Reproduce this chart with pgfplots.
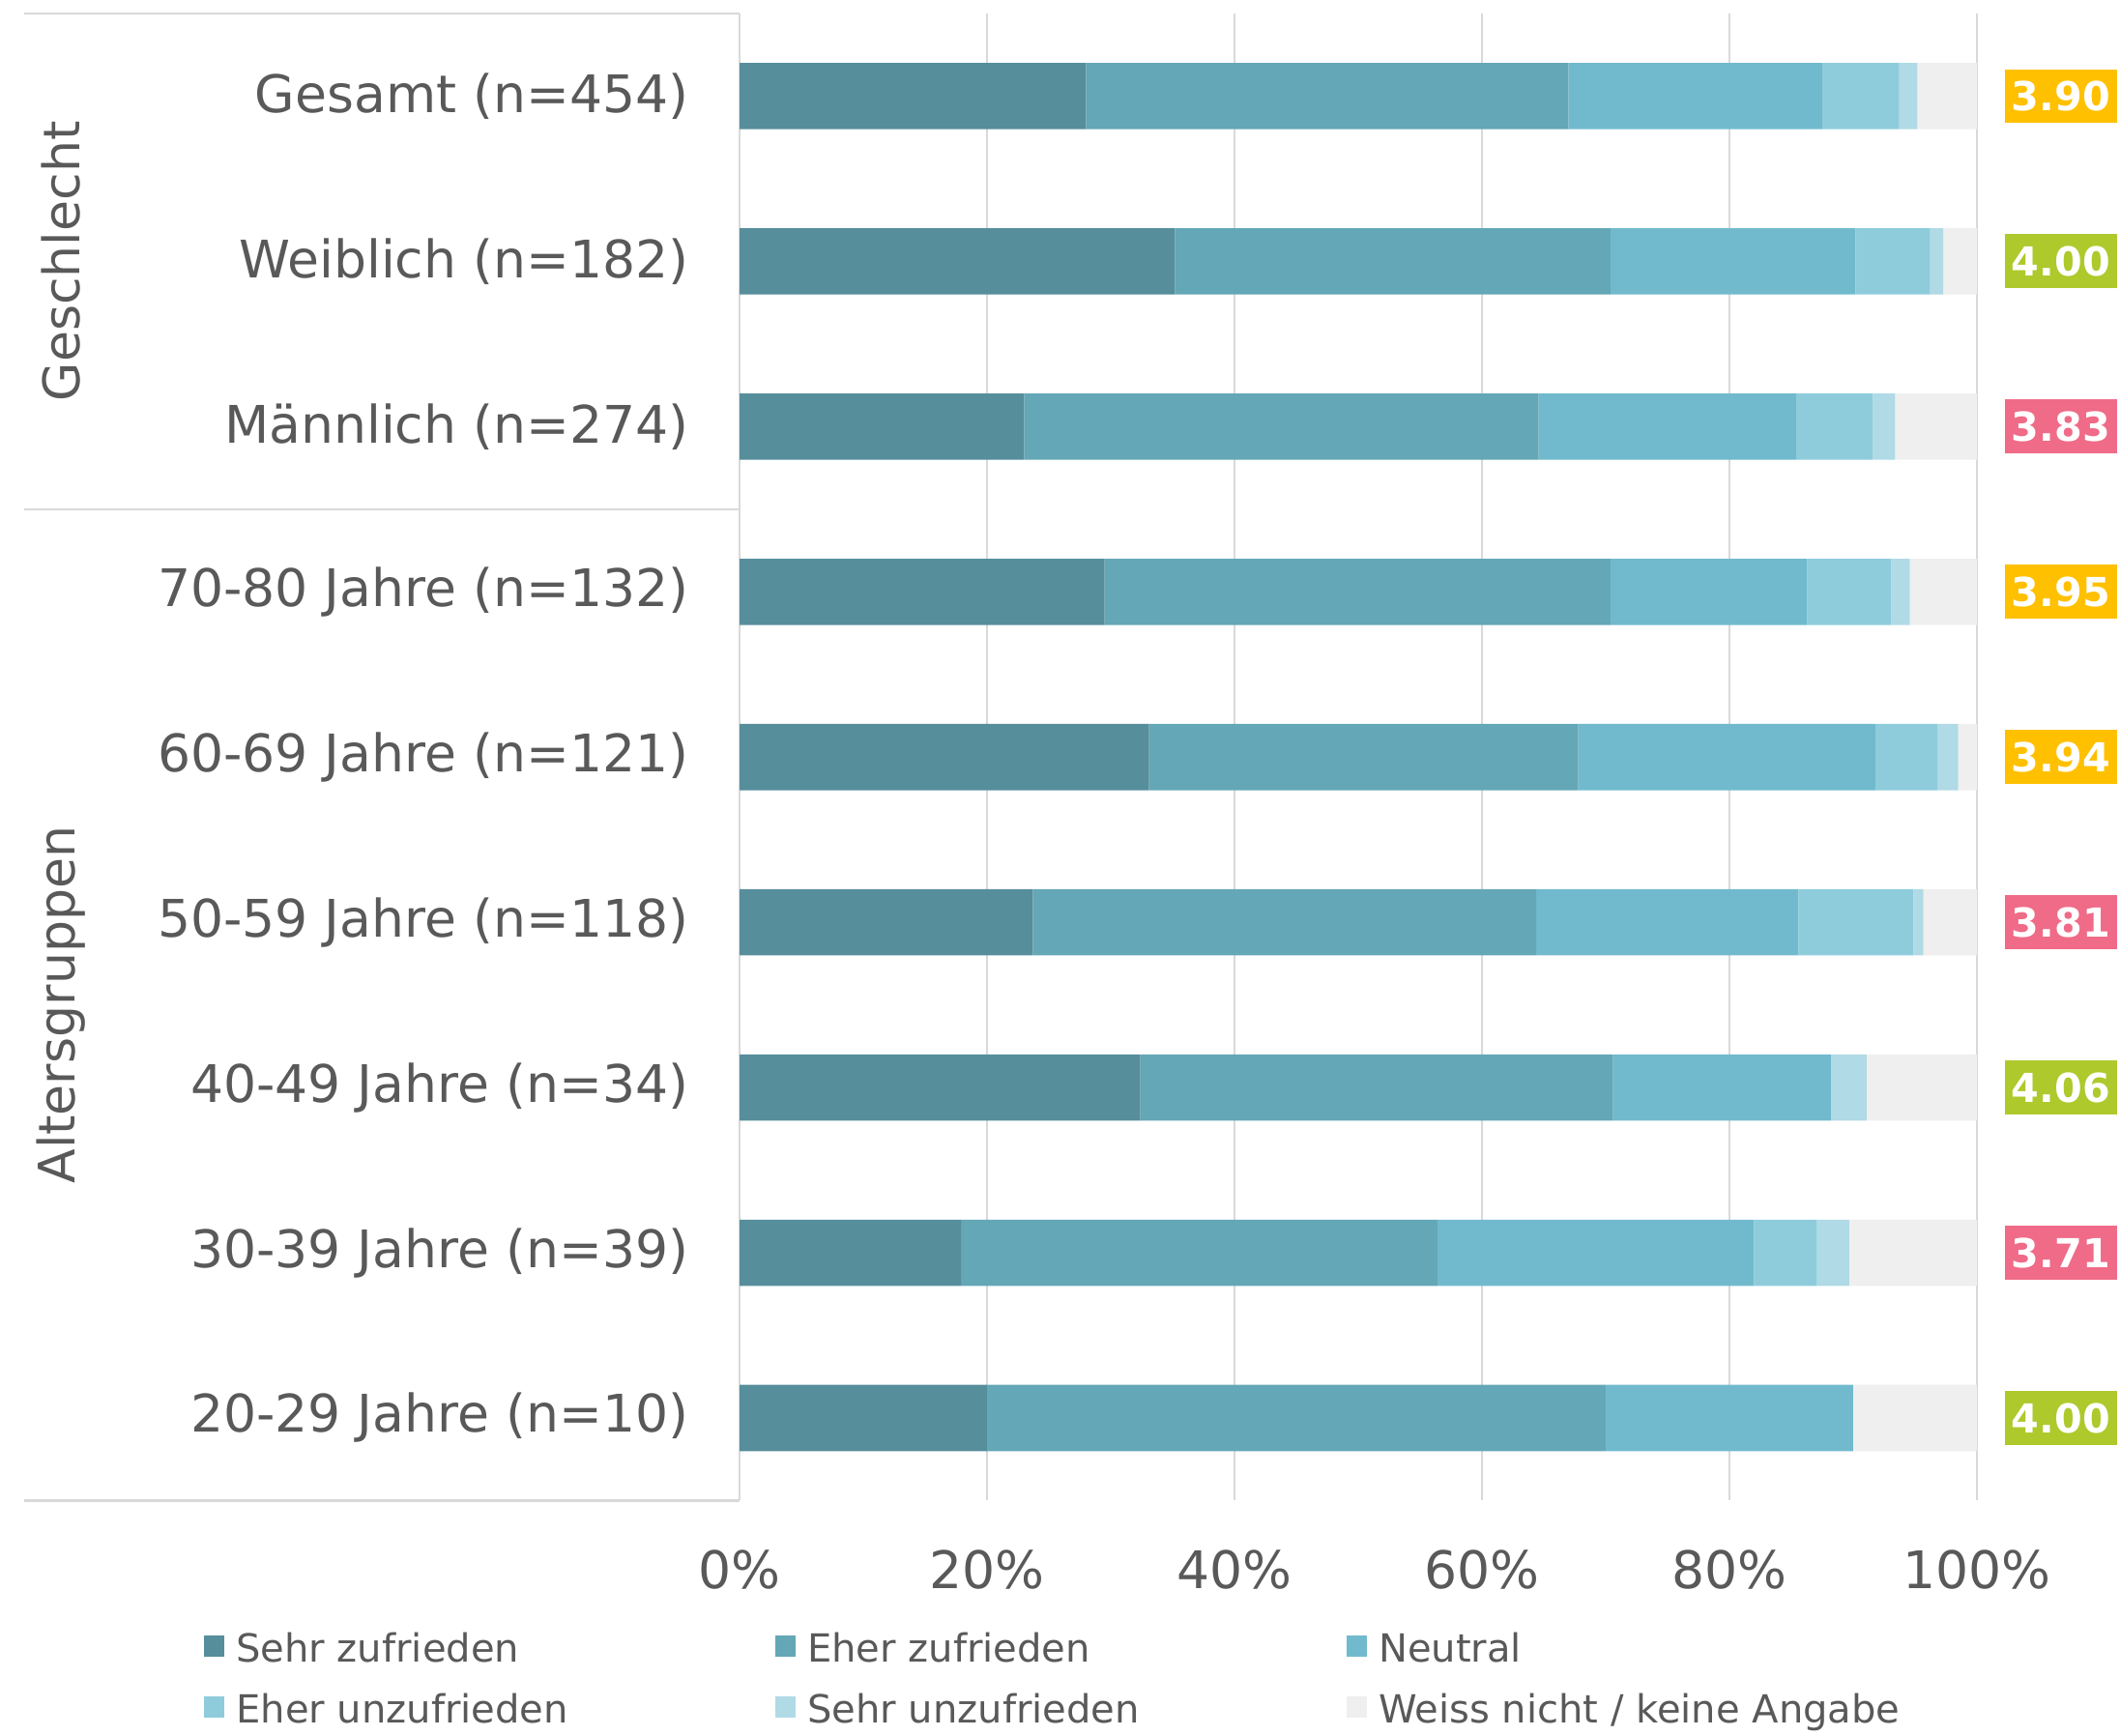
\documentclass[border=0pt]{standalone}
\usepackage{fontspec}
\setmainfont{DejaVu Sans}
\usepackage{pgfplots}
\pgfplotsset{compat=1.18}

\definecolor{cSZ}{HTML}{568E9B}
\definecolor{cEZ}{HTML}{64A7B6}
\definecolor{cNe}{HTML}{71BACE}
\definecolor{cEU}{HTML}{8ECCDC}
\definecolor{cSU}{HTML}{B0DAE5}
\definecolor{cWN}{HTML}{EFEFEF}
\definecolor{cYel}{HTML}{FFC000}
\definecolor{cGrn}{HTML}{ADC92B}
\definecolor{cPnk}{HTML}{EF6B87}
\definecolor{textgray}{HTML}{595959}
\definecolor{linegray}{HTML}{D9D9D9}

\pgfplotsset{
  sq/.style={draw=none, legend image code/.code={\fill[##1] (0cm,-0.035cm) rectangle (0.155cm,0.12cm);}},
}
\tikzset{
  scorebox/.style={anchor=center, inner sep=0pt, minimum width=0.83cm, minimum height=0.40cm,
    text=white, font=\fontsize{8.4}{9}\selectfont\bfseries},
}

\newcommand{\lent}[1]{\makebox[3.985cm][l]{#1}}

\begin{document}
\begin{tikzpicture}
\path[use as bounding box] (-5.47cm,-1.74cm) rectangle (10.21cm,11.10cm);
\begin{axis}[
    at={(0,0)}, anchor=south west,
    scale only axis, width=9.15cm, height=11cm,
    xbar stacked, bar width=0.49cm,
    xmin=0, xmax=100, ymin=-0.5, ymax=8.5,
    ytick={0,...,8},
    yticklabels={20-29 Jahre (n=10), 30-39 Jahre (n=39), 40-49 Jahre (n=34),
      50-59 Jahre (n=118), 60-69 Jahre (n=121), 70-80 Jahre (n=132),
      Männlich (n=274), Weiblich (n=182), Gesamt (n=454)},
    xtick={0,20,...,100},
    xticklabels={0\%,20\%,40\%,60\%,80\%,100\%},
    xmajorgrids, grid style={linegray, line width=0.5pt},
    axis line style={draw=none},
    major tick length=0pt,
    tick label style={text=textgray, font=\fontsize{10.9}{13}\selectfont, inner sep=0pt},
    yticklabel style={anchor=east, xshift=-0.37cm},
    xticklabel style={anchor=north, yshift=-0.36cm},
    clip=false,
    legend columns=3,
    legend cell align=left,
    legend style={at={(axis description cs:0,0)}, anchor=north west,
      xshift=-3.97cm, yshift=-0.97cm,
      draw=none, fill=none, inner sep=0pt, row sep=0.17cm,
      /tikz/column sep=0pt,
      /tikz/every odd column/.append style={column sep=0.085cm},
      nodes={inner sep=0pt, text height=0.22cm, text depth=0.06cm, text=textgray},
      font=\fontsize{8.15}{9.8}\selectfont},
  ]
  \addplot[sq, fill=cSZ] coordinates {(28.0,8) (35.2,7) (23.0,6) (29.5,5) (33.1,4) (23.7,3) (32.4,2) (17.9,1) (20.0,0)};
  \addplot[sq, fill=cEZ] coordinates {(39.0,8) (35.2,7) (41.6,6) (40.9,5) (34.7,4) (40.7,3) (38.2,2) (38.5,1) (50.0,0)};
  \addplot[sq, fill=cNe] coordinates {(20.5,8) (19.8,7) (20.8,6) (15.9,5) (24.0,4) (21.2,3) (17.6,2) (25.6,1) (20.0,0)};
  \addplot[sq, fill=cEU] coordinates {(6.2,8) (6.0,7) (6.2,6) (6.8,5) (5.0,4) (9.3,3) (0,2) (5.1,1) (0,0)};
  \addplot[sq, fill=cSU] coordinates {(1.5,8) (1.1,7) (1.8,6) (1.5,5) (1.7,4) (0.8,3) (2.9,2) (2.6,1) (0,0)};
  \addplot[sq, fill=cWN] coordinates {(4.8,8) (2.7,7) (6.6,6) (5.4,5) (1.5,4) (4.3,3) (8.9,2) (10.3,1) (10.0,0)};
  \legend{\lent{Sehr zufrieden}, \lent{Eher zufrieden}, \lent{Neutral},
    \lent{Eher unzufrieden}, \lent{Sehr unzufrieden}, \lent{Weiss nicht / keine Angabe}}

  % group separators and labels
  \draw[linegray, line width=0.5pt] (axis cs:0,8.5) -- ++(-5.29cm,0cm);
  \draw[linegray, line width=0.5pt] (axis cs:0,5.5) -- ++(-5.29cm,0cm);
  \draw[linegray, line width=0.5pt] (axis cs:0,-0.5) -- ++(-5.29cm,0cm);
  \node[rotate=90, text=textgray, font=\fontsize{10.6}{12}\selectfont] at ([xshift=-5.02cm]axis cs:0,7) {Geschlecht};
  \node[rotate=90, text=textgray, font=\fontsize{10.6}{12}\selectfont] at ([xshift=-5.02cm]axis cs:0,2.5) {Altersgruppen};
\end{axis}

% mean scores
\begin{axis}[
    at={(0,0)}, anchor=south west,
    scale only axis, width=9.15cm, height=11cm,
    xmin=0, xmax=100, ymin=-0.5, ymax=8.5,
    hide axis, clip=false,
  ]
  \addplot[only marks, mark=none, point meta=explicit symbolic, nodes near coords,
    nodes near coords style={scorebox, fill=cYel}]
    coordinates {(106.8,8) [3.90] (106.8,5) [3.95] (106.8,4) [3.94]};
  \addplot[only marks, mark=none, point meta=explicit symbolic, nodes near coords,
    nodes near coords style={scorebox, fill=cGrn}]
    coordinates {(106.8,7) [4.00] (106.8,2) [4.06] (106.8,0) [4.00]};
  \addplot[only marks, mark=none, point meta=explicit symbolic, nodes near coords,
    nodes near coords style={scorebox, fill=cPnk}]
    coordinates {(106.8,6) [3.83] (106.8,3) [3.81] (106.8,1) [3.71]};
\end{axis}
\end{tikzpicture}
\end{document}
